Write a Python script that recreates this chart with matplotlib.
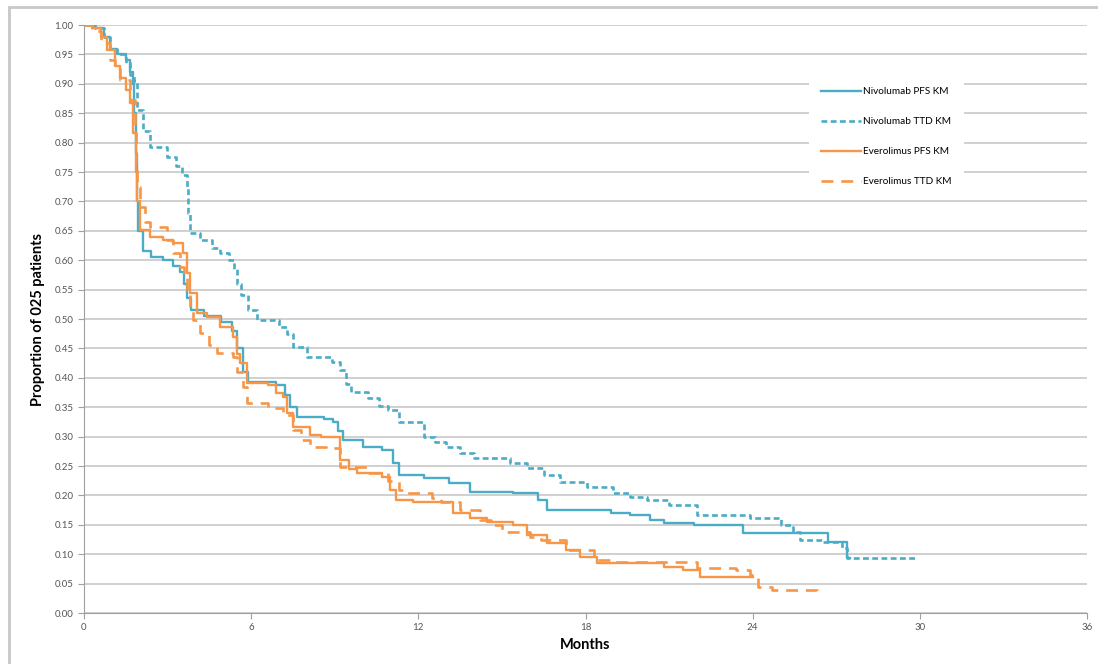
import matplotlib
matplotlib.use('Agg')
import matplotlib.pyplot as plt
from matplotlib.patches import Rectangle

plt.rcParams['font.family'] = ['Lato', 'DejaVu Sans']

# step points (months, proportion)
niv_pfs_t = [0, 0.4, 0.7, 0.93, 1.2, 1.5, 1.65, 1.75, 1.8, 1.85, 1.9, 1.95, 2.1, 2.4, 2.84,
             3.2, 3.45, 3.6, 3.7, 3.85, 4.3, 4.9, 5.3, 5.5, 5.7, 5.9, 6.9, 7.2, 7.4, 7.65,
             8.6, 8.94, 9.1, 9.3, 10.0, 10.7, 11.1, 11.3, 12.2, 13.1, 13.85, 15.4, 16.3,
             16.6, 18.9, 19.6, 20.3, 20.8, 21.9, 23.65, 26.7, 27.4, 27.5]
niv_pfs_s = [1.0, 0.995, 0.98, 0.96, 0.95, 0.94, 0.92, 0.90, 0.85, 0.78, 0.70, 0.65, 0.615,
             0.605, 0.60, 0.59, 0.58, 0.56, 0.535, 0.515, 0.505, 0.495, 0.48, 0.45, 0.41,
             0.393, 0.388, 0.37, 0.35, 0.333, 0.33, 0.325, 0.31, 0.294, 0.282, 0.277, 0.255,
             0.235, 0.229, 0.221, 0.206, 0.204, 0.192, 0.175, 0.17, 0.167, 0.158, 0.153,
             0.15, 0.136, 0.121, 0.094, 0.094]

niv_ttd_t = [0, 0.4, 0.7, 0.93, 1.2, 1.5, 1.65, 1.8, 1.9, 2.1, 2.37, 2.98, 3.3, 3.5, 3.7,
             3.75, 3.8, 4.16, 4.6, 4.88, 5.2, 5.4, 5.5, 5.65, 5.9, 6.2, 7.0, 7.3, 7.5, 8.0,
             8.9, 9.2, 9.4, 9.6, 10.2, 10.6, 10.9, 11.3, 12.2, 12.6, 13.0, 13.5, 14.0, 15.3,
             15.9, 16.5, 17.1, 18.05, 19.0, 19.6, 20.2, 21.0, 22.0, 23.9, 25.0, 25.45, 25.7,
             26.5, 27.2, 27.4, 29.9]
niv_ttd_s = [1.0, 0.995, 0.98, 0.96, 0.95, 0.935, 0.915, 0.905, 0.855, 0.82, 0.793, 0.776,
             0.76, 0.745, 0.725, 0.68, 0.646, 0.634, 0.62, 0.612, 0.60, 0.585, 0.56, 0.54,
             0.515, 0.498, 0.487, 0.475, 0.452, 0.435, 0.427, 0.413, 0.39, 0.376, 0.366,
             0.352, 0.345, 0.325, 0.30, 0.29, 0.283, 0.272, 0.264, 0.255, 0.246, 0.235,
             0.223, 0.214, 0.204, 0.198, 0.192, 0.184, 0.167, 0.162, 0.15, 0.138, 0.124,
             0.121, 0.111, 0.094, 0.094]

eve_pfs_t = [0, 0.3, 0.6, 0.82, 1.1, 1.3, 1.5, 1.65, 1.76, 1.85, 1.9, 2.0, 2.37, 2.84, 3.2,
             3.55, 3.7, 3.8, 4.05, 4.4, 4.88, 5.35, 5.5, 5.6, 5.85, 6.6, 6.9, 7.15, 7.3, 7.5,
             8.1, 8.5, 9.2, 9.5, 9.8, 10.7, 11.0, 11.2, 11.8, 13.25, 13.85, 14.45, 15.4,
             15.9, 16.6, 17.3, 17.8, 18.4, 20.8, 21.5, 22.1, 24.0]
eve_pfs_s = [1.0, 0.995, 0.98, 0.957, 0.93, 0.91, 0.89, 0.867, 0.816, 0.75, 0.70, 0.651,
             0.64, 0.634, 0.629, 0.612, 0.578, 0.544, 0.51, 0.504, 0.487, 0.47, 0.44, 0.425,
             0.391, 0.388, 0.375, 0.367, 0.34, 0.316, 0.303, 0.30, 0.26, 0.245, 0.238, 0.231,
             0.21, 0.192, 0.189, 0.17, 0.162, 0.155, 0.15, 0.133, 0.119, 0.107, 0.095, 0.085,
             0.078, 0.073, 0.062, 0.062]

eve_ttd_t = [0, 0.3, 0.6, 0.93, 1.1, 1.3, 1.65, 1.83, 1.88, 1.9, 2.0, 2.2, 2.37, 2.98, 3.2,
             3.45, 3.6, 3.7, 3.8, 3.9, 4.16, 4.5, 4.77, 5.35, 5.5, 5.7, 5.85, 6.6, 7.15, 7.5,
             7.8, 8.1, 8.7, 9.2, 10.2, 10.9, 11.3, 11.6, 12.5, 12.8, 13.5, 14.2, 14.6, 15.0,
             16.0, 16.4, 17.3, 18.3, 19.0, 22.0, 23.4, 23.9, 24.2, 24.7, 26.3, 26.4]
eve_ttd_s = [1.0, 0.99, 0.97, 0.94, 0.925, 0.906, 0.872, 0.816, 0.76, 0.725, 0.69, 0.665,
             0.656, 0.634, 0.612, 0.589, 0.57, 0.549, 0.52, 0.498, 0.476, 0.455, 0.442,
             0.435, 0.41, 0.384, 0.357, 0.349, 0.337, 0.311, 0.295, 0.282, 0.28, 0.248,
             0.238, 0.225, 0.21, 0.204, 0.195, 0.189, 0.175, 0.158, 0.15, 0.138, 0.13,
             0.124, 0.107, 0.09, 0.087, 0.077, 0.073, 0.065, 0.044, 0.039, 0.036, 0.036]

labels = ['Nivolumab PFS KM', 'Nivolumab TTD KM', 'Everolimus PFS KM', 'Everolimus TTD KM']
x_ticks = [0, 6, 12, 18, 24, 30, 36]
y_ticks = [i * 0.05 for i in range(21)]

blue = '#4BACC6'
orange = '#F79646'

fig = plt.figure(figsize=(10.98, 6.64), dpi=100)
ax = fig.add_axes([0.0765, 0.0768, 0.9135, 0.8855])

ax.step(niv_pfs_t, niv_pfs_s, where='post', color=blue, lw=1.7, label=labels[0])
ax.step(niv_ttd_t, niv_ttd_s, where='post', color=blue, lw=1.9, dashes=(2.2, 1.3), label=labels[1])
ax.step(eve_pfs_t, eve_pfs_s, where='post', color=orange, lw=1.7, label=labels[2])
ax.step(eve_ttd_t, eve_ttd_s, where='post', color=orange, lw=1.9, dashes=(4.5, 3), label=labels[3])

ax.set_xlim(0, 36)
ax.set_ylim(0, 1.0)
ax.set_xticks(x_ticks)
ax.set_yticks(y_ticks)
ax.set_yticklabels(['%.2f' % v for v in y_ticks])
ax.yaxis.grid(True, color='#C8C8C8', lw=1.2)
ax.set_axisbelow(True)
ax.tick_params(axis='both', labelsize=7, colors='#A0A0A0', labelcolor='#555555', length=4)
for s in ['top', 'right']:
    ax.spines[s].set_visible(False)
for s in ['left', 'bottom']:
    ax.spines[s].set_color('#A0A0A0')

ax.set_xlabel('Months', fontsize=10.5, fontweight='bold', labelpad=4)
ax.set_ylabel('Proportion of 025 patients', fontsize=10.5, fontweight='bold', labelpad=7)

leg = ax.legend(loc='center', bbox_to_anchor=(0.80, 0.81), fontsize=7.2, frameon=True,
                facecolor='white', edgecolor='none', framealpha=1, fancybox=False,
                handlelength=4.0, handletextpad=0.2, labelspacing=2.1, borderpad=1.2)

# light outer frame of the original picture
fig.patches.append(Rectangle((0.0082, -0.02), 1.1, 1.0095, transform=fig.transFigure,
                             fill=False, edgecolor='#C8C8C8', lw=2))

fig.savefig('out.png', dpi=100)
